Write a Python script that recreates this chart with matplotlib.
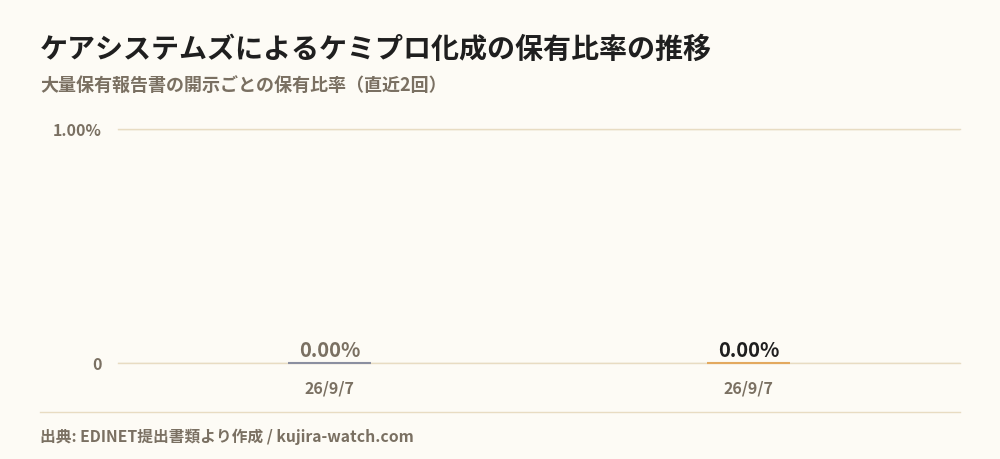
import matplotlib
matplotlib.use("Agg")
import matplotlib.pyplot as plt
import numpy as np

plt.rcParams["font.family"] = ["Noto Sans CJK JP", "DejaVu Sans"]

TITLE = "ケアシステムズによるケミプロ化成の保有比率の推移"
SUBTITLE = "大量保有報告書の開示ごとの保有比率（直近2回）"
SOURCE = "出典: EDINET提出書類より作成 / kujira-watch.com"

dates = ["26/9/7", "26/9/7"]
ratios = [0.00, 0.00]
bar_colors = ["#8b8fa0", "#e3a95f"]
label_colors = ["#7a7062", "#1f1f1f"]
y_ticks = [0, 1.0]
y_ticklabels = ["0", "1.00%"]

BG = "#fdfbf5"
GRID = "#e8dcc2"
MUTED = "#7a7062"

fig = plt.figure(figsize=(10, 4.6), dpi=100, facecolor=BG)
ax = fig.add_axes([0.118, 0.2087, 0.842, 0.5087], facecolor=BG)

x = np.arange(len(dates))
ax.bar(x, ratios, width=0.2, color=bar_colors, edgecolor=bar_colors,
       linewidth=1.5, zorder=3, clip_on=False)
for xi, v, c in zip(x, ratios, label_colors):
    ax.text(xi, v + 0.012, f"{v:.2f}%", ha="center", va="bottom",
            fontsize=14.5, fontweight="bold", color=c, zorder=4)

ax.set_xlim(-0.505, 1.505)
ax.set_ylim(0, 1.0)
ax.set_yticks(y_ticks)
ax.set_yticklabels(y_ticklabels)
ax.set_xticks(x)
ax.set_xticklabels(dates)
ax.tick_params(length=0, labelsize=11.5, labelcolor=MUTED, pad=12)
for lab in ax.get_xticklabels() + ax.get_yticklabels():
    lab.set_fontweight("bold")
ax.tick_params(axis="x", pad=12)
ax.grid(axis="y", color=GRID, linewidth=1, zorder=0)
for yt in y_ticks:
    ax.axhline(yt, color=GRID, linewidth=1, zorder=1, clip_on=False)
for s in ax.spines.values():
    s.set_visible(False)

fig.text(0.04, 0.891, TITLE, fontsize=20.2, fontweight="bold", color="#1f1f1f",
         va="center", ha="left")
fig.text(0.04, 0.815, SUBTITLE, fontsize=13, fontweight="bold", color=MUTED,
         va="center", ha="left")
fig.add_artist(plt.Line2D([0.04, 0.96], [1 - 413 / 460] * 2, color=GRID,
                          linewidth=1, transform=fig.transFigure))
fig.text(0.04, 1 - 437 / 460, SOURCE, fontsize=11.3, fontweight="bold",
         color=MUTED, va="center", ha="left")

fig.savefig("out.png", dpi=100, facecolor=BG)
